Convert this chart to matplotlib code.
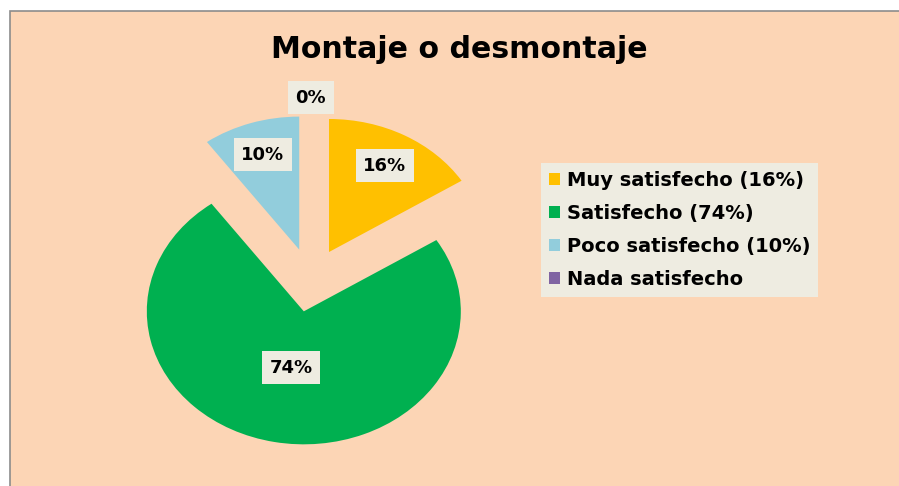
import numpy as np
import matplotlib
matplotlib.use('Agg')
import matplotlib.pyplot as plt
from matplotlib.patches import Rectangle, Patch

# datos
categorias = ["Muy satisfecho (16%)", "Satisfecho (74%)", "Poco satisfecho (10%)", "Nada satisfecho"]
valores = [16, 74, 10, 0]
colores = ["#FFC000", "#00B050", "#92CDDC", "#8064A2"]
titulo = "Montaje o desmontaje"

# distancia de cada etiqueta desde el centro de su porcion (en radios)
dist_etiquetas = [0.74, 0.43, 0.75, 1.13]

W, H = 899, 486
fig = plt.figure(figsize=(W / 100, H / 100), dpi=100)
fig.patch.set_facecolor("white")

# fondo del grafico con el marco gris
fondo = Rectangle((10 / W, -0.1), 1.2, 1.1 - 11 / H, transform=fig.transFigure,
                  facecolor="#FCD5B5", edgecolor="#8C8C8C", linewidth=1.2, zorder=-5)
fig.patches.append(fondo)

ax = fig.add_axes([0, 0, 1, 1])
ax.set_facecolor("none")
ax.set_zorder(1)

wedges, _ = ax.pie(valores, colors=colores, startangle=90, counterclock=False,
                   explode=[0.24] * len(valores), radius=1,
                   wedgeprops=dict(linewidth=0))
# la torta sale un poco ovalada en el original
ax.set_aspect("auto")
ax.set_xlim(-1.980, 3.746)
ax.set_ylim(-1.549, 2.105)
ax.axis("off")

total = sum(valores)
for w, d, v in zip(wedges, dist_etiquetas, valores):
    ang = np.deg2rad((w.theta1 + w.theta2) / 2)
    cx, cy = w.center
    x = cx + d * w.r * np.cos(ang)
    y = cy + d * w.r * np.sin(ang)
    ax.text(x, y, f"{v / total * 100:.0f}%", ha="center", va="center",
            fontsize=13, fontweight="bold", family="DejaVu Sans", color="black",
            bbox=dict(boxstyle="square,pad=0.42", fc="#EEECE1", ec="none"))

# titulo
fig.text(459.5 / W, 1 - 58 / H, titulo, ha="center", va="baseline",
         fontsize=21.6, fontweight="bold", family="DejaVu Sans", zorder=3)

# leyenda
handles = [Patch(facecolor=c, edgecolor="none") for c in colores]
leg = fig.legend(handles, categorias, loc="upper left",
                 bbox_to_anchor=(541 / W, 1 - 163 / H),
                 prop=dict(family="DejaVu Sans", weight="bold", size=14),
                 frameon=True, fancybox=False, handlelength=0.55, handleheight=0.55,
                 handletextpad=0.35, labelspacing=0.72, borderpad=0.42,
                 borderaxespad=0)
leg.set_zorder(3)
leg.get_frame().set_facecolor("#EEECE1")
leg.get_frame().set_edgecolor("none")
leg.get_frame().set_alpha(1)

fig.savefig("out.png", dpi=100, facecolor=fig.get_facecolor())
